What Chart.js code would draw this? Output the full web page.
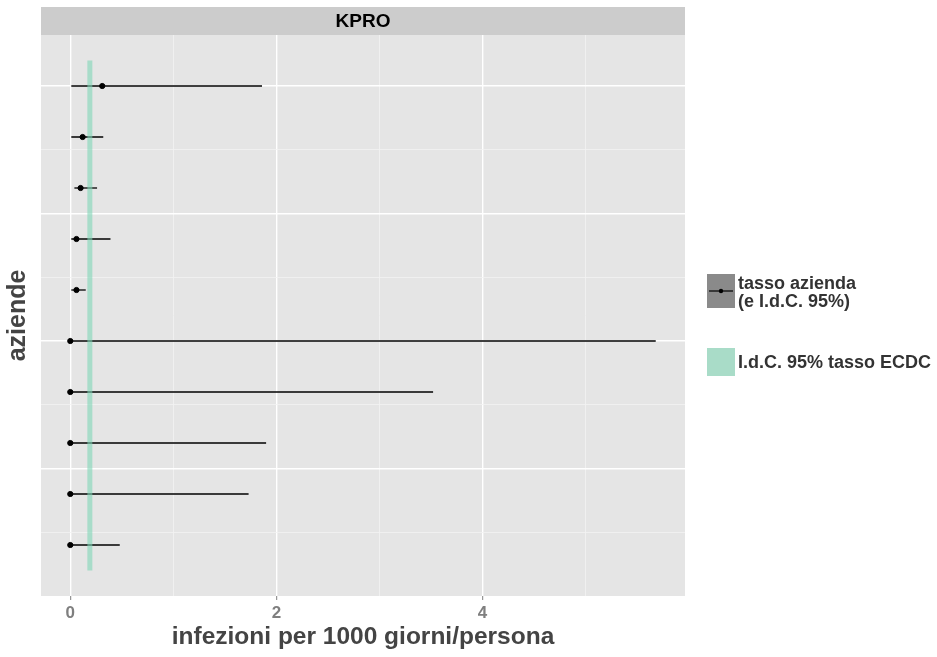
<!DOCTYPE html>
<html>
<head>
<meta charset="utf-8">
<script src="https://cdn.jsdelivr.net/npm/chart.js@4.4.1/dist/chart.umd.min.js"></script>
<style>
  html,body{ margin:0; padding:0; background:#fff; }
  #wrap{ width:937px; height:657px; }
</style>
</head>
<body>
<div id="wrap"><canvas id="c" width="937" height="657"></canvas></div>
<script>
// KPRO â€” tasso per azienda con I.d.C. 95%, banda ECDC
const facet = 'KPRO';
const rowPos = [10, 9, 8, 7, 6, 5, 4, 3, 2, 1];          // aziende, dall'alto
const rate   = [0.31, 0.12, 0.10, 0.06, 0.06, 0, 0, 0, 0, 0];
const lower  = [0.01, 0.01, 0.04, 0.01, 0.01, 0, 0, 0, 0, 0];
const upper  = [1.86, 0.32, 0.26, 0.39, 0.15, 5.68, 3.52, 1.90, 1.73, 0.48];
const ecdcLow = 0.17, ecdcHigh = 0.21;
const ecdcSpan = [0.5, 10.5];
const xTicks = [0, 1, 2, 3, 4, 5];
const xLabels = [0, 2, 4];
const yTicks = [1.25, 2.5, 3.75, 5, 6.25, 7.5, 8.75, 10];
const yMajor = [2.5, 5, 7.5, 10];

const font = 'Liberation Sans, Arial, sans-serif';
const isMajX = v => xLabels.includes(v);
const isMajY = v => yMajor.includes(v);

const errBars = rowPos.map((y,i)=>({
  data:[{x:lower[i], y}, {x:upper[i], y}],
  showLine:true, borderColor:'#000', borderWidth:1.3, pointRadius:0, order:3
}));
const ecdcMid = (ecdcLow + ecdcHigh)/2;

const panel = {
  id:'panel',
  beforeDraw(chart){
    const {ctx, chartArea:a} = chart;
    ctx.save();
    ctx.fillStyle = '#e5e5e5';
    ctx.fillRect(a.left, a.top, a.right-a.left, a.bottom-a.top);
    // strip
    ctx.fillStyle = '#cccccc';
    ctx.fillRect(a.left, a.top-28, a.right-a.left, 28);
    ctx.fillStyle = '#000';
    ctx.font = 'bold 19px ' + font;
    ctx.textAlign = 'center'; ctx.textBaseline = 'middle';
    ctx.fillText(facet, (a.left+a.right)/2, a.top-13);
    ctx.restore();
  },
  afterDraw(chart){
    const ctx = chart.ctx;
    ctx.save();
    // legend key 1
    ctx.fillStyle = '#8a8a8a';
    ctx.fillRect(707, 274, 28, 34);
    ctx.strokeStyle = '#000'; ctx.lineWidth = 1.2;
    ctx.beginPath(); ctx.moveTo(709, 291); ctx.lineTo(733, 291); ctx.stroke();
    ctx.fillStyle = '#000';
    ctx.beginPath(); ctx.arc(721, 291, 2.2, 0, Math.PI*2); ctx.fill();
    // legend key 2
    ctx.fillStyle = '#a9dcc8';
    ctx.fillRect(707, 348, 28, 28);
    ctx.fillStyle = '#333';
    ctx.font = 'bold 18px ' + font;
    ctx.textAlign = 'left'; ctx.textBaseline = 'middle';
    ctx.fillText('tasso azienda', 738, 284);
    ctx.fillText('(e I.d.C. 95%)', 738, 302);
    ctx.fillText('I.d.C. 95% tasso ECDC', 738, 363);
    ctx.restore();
  }
};

new Chart(document.getElementById('c'), {
  type:'scatter',
  data:{
    datasets:[
      ...errBars,
      { data: rowPos.map((y,i)=>({x:rate[i], y})), backgroundColor:'#000', borderColor:'#000',
        pointRadius:2.6, order:2 },
      { data: ecdcSpan.map(y=>({x:ecdcMid, y})), showLine:true, borderColor:'rgba(127,214,181,0.6)',
        borderWidth:5, borderCapStyle:'butt', pointRadius:0, order:1 }
    ]
  },
  options:{
    responsive:false, animation:false,
    layout:{ padding:{ top:35, right:252, left:0, bottom:0 } },
    plugins:{ legend:{ display:false }, tooltip:{ enabled:false } },
    events:[],
    scales:{
      x:{
        type:'linear', min:-0.284, max:5.964,
        afterBuildTicks: s => { s.ticks = xTicks.map(v=>({value:v})); },
        afterFit: s => { s.height = 61; },
        border:{ display:false },
        grid:{
          color: c => isMajX(c.tick.value) ? '#ffffff' : '#f2f2f2',
          lineWidth: c => isMajX(c.tick.value) ? 1.4 : 0.8,
          tickColor: c => isMajX(c.tick.value) ? '#7f7f7f' : 'rgba(0,0,0,0)',
          tickLength:4, tickWidth:1
        },
        ticks:{
          callback: v => isMajX(v) ? String(v) : '',
          color:'#7f7f7f', font:{ family:font, size:17, weight:'bold' }, padding:3, maxRotation:0
        },
        title:{ display:true, text:'infezioni per 1000 giorni/persona', color:'#444',
          font:{ family:font, size:24.5, weight:'bold' }, padding:{ top:0, bottom:5 } }
      },
      y:{
        type:'linear', min:0, max:11,
        afterBuildTicks: s => { s.ticks = yTicks.map(v=>({value:v})); },
        afterFit: s => { s.width = 41; },
        border:{ display:false },
        grid:{
          color: c => isMajY(c.tick.value) ? '#ffffff' : '#f2f2f2',
          lineWidth: c => isMajY(c.tick.value) ? 1.4 : 0.8,
          drawTicks:false
        },
        ticks:{ callback: () => '', padding:0 },
        title:{ display:true, text:'aziende', color:'#444',
          font:{ family:font, size:25, weight:'bold' }, padding:{ top:3, bottom:0 } }
      }
    }
  },
  plugins:[panel]
});
</script>
</body>
</html>
